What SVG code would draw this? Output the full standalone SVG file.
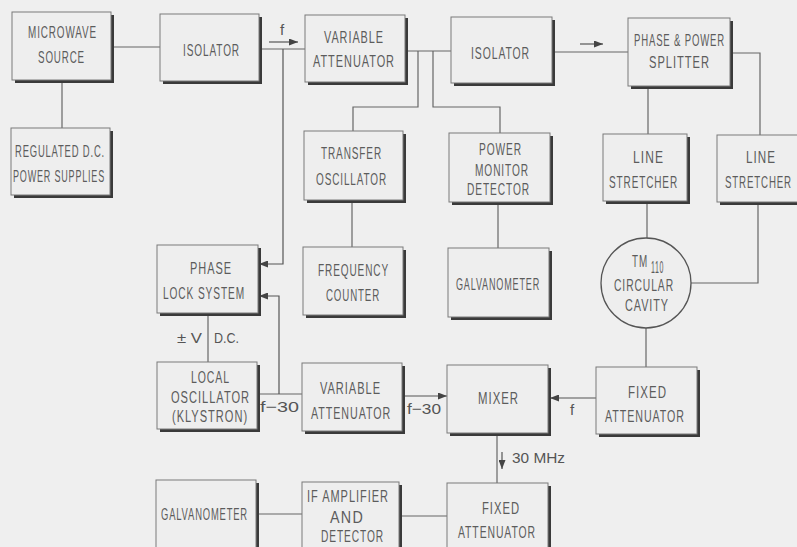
<svg xmlns="http://www.w3.org/2000/svg" width="797" height="547" viewBox="0 0 797 547">
<style>
.s{fill:#3a3a3a}
.f{fill:#eeeeee;stroke:#7a7a7a;stroke-width:1}
.t{font-family:"Liberation Sans",Arial,sans-serif;font-size:17px;letter-spacing:1.5px;fill:#5c5c5c}
.l{font-family:"Liberation Sans",Arial,sans-serif;font-size:15px;fill:#555}
.c{stroke:#666;stroke-width:1.2;fill:none}
.a{stroke:#555;stroke-width:1.2;fill:none;marker-end:url(#ah)}
</style>
<defs>
<marker id="ah" markerWidth="9" markerHeight="7" refX="9" refY="3.5" orient="auto" markerUnits="userSpaceOnUse">
<path d="M0,0 L9,3.5 L0,7 z" fill="#444"/>
</marker>
</defs>
<rect x="0" y="0" width="797" height="547" fill="#efefef"/>

<g id="connectors">
<path class="c" d="M111,47 H160"/>
<path class="c" d="M62,80 V128"/>
<path class="c" d="M259,49 H305"/>
<path class="a" d="M269,42 H298"/>
<path class="a" d="M283,49 V264 H259"/>
<path class="c" d="M405,51 H451"/>
<path class="c" d="M418,51 V107 H353 V131"/>
<path class="c" d="M433,51 V107 H500 V133"/>
<path class="c" d="M552,52 H628"/>
<path class="a" d="M580,44 H603"/>
<path class="c" d="M730,53 H760 V135"/>
<path class="c" d="M648,86 V134"/>
<path class="c" d="M352,200 V247"/>
<path class="c" d="M498,202 V248"/>
<path class="c" d="M647,201 V238"/>
<path class="c" d="M758,202 V283 H691"/>
<path class="c" d="M646,328 V367"/>
<path class="a" d="M596,398 H550"/>
<path class="c" d="M208,313 V362"/>
<path class="c" d="M257,394 H302"/>
<path class="a" d="M279,394 V296 H259"/>
<path class="a" d="M402,396 H447"/>
<path class="c" d="M497,433 V483"/>
<path class="a" d="M502,452 V469"/>
<path class="c" d="M256,514 H302"/>
<path class="c" d="M399,516 H447"/>
<text class="l" x="280" y="35" font-size="13">f</text>
<text class="l" x="570" y="415" font-size="13">f</text>
<text class="l" x="177" y="343" textLength="25" lengthAdjust="spacingAndGlyphs">± V</text>
<text class="l" x="214" y="343" textLength="25" lengthAdjust="spacingAndGlyphs">D.C.</text>
<text class="l" x="260" y="412" font-size="14" textLength="39" lengthAdjust="spacingAndGlyphs">f−30</text>
<text class="l" x="407" y="414" font-size="14" textLength="34" lengthAdjust="spacingAndGlyphs">f−30</text>
<text class="l" x="512" y="463" textLength="53" lengthAdjust="spacingAndGlyphs">30 MHz</text>
</g>

<g id="microwave-source">
<rect class="s" x="15" y="15" width="99" height="68"/><rect class="f" x="12" y="12" width="99" height="68"/>
<text class="t" font-size="15" x="28" y="38" textLength="69" lengthAdjust="spacingAndGlyphs">MICROWAVE</text>
<text class="t" font-size="16" x="38" y="63" textLength="47" lengthAdjust="spacingAndGlyphs">SOURCE</text>
</g>
<g id="regulated-dc">
<rect class="s" x="14" y="131" width="99" height="67"/><rect class="f" x="11" y="128" width="99" height="67"/>
<text class="t" font-size="18" x="15" y="157" textLength="90" lengthAdjust="spacingAndGlyphs">REGULATED D.C.</text>
<text class="t" font-size="18" x="13" y="182" textLength="92" lengthAdjust="spacingAndGlyphs">POWER SUPPLIES</text>
</g>
<g id="isolator-1">
<rect class="s" x="163" y="17" width="99" height="67"/><rect class="f" x="160" y="14" width="99" height="67"/>
<text class="t" x="183" y="56" textLength="57" lengthAdjust="spacingAndGlyphs">ISOLATOR</text>
</g>
<g id="variable-attenuator-1">
<rect class="s" x="308" y="18" width="100" height="67"/><rect class="f" x="305" y="15" width="100" height="67"/>
<text class="t" x="324" y="43" textLength="60" lengthAdjust="spacingAndGlyphs">VARIABLE</text>
<text class="t" x="313" y="67" textLength="82" lengthAdjust="spacingAndGlyphs">ATTENUATOR</text>
</g>
<g id="isolator-2">
<rect class="s" x="454" y="20" width="101" height="66"/><rect class="f" x="451" y="17" width="101" height="66"/>
<text class="t" x="471" y="59" textLength="59" lengthAdjust="spacingAndGlyphs">ISOLATOR</text>
</g>
<g id="phase-power-splitter">
<rect class="s" x="631" y="21" width="102" height="68"/><rect class="f" x="628" y="18" width="102" height="68"/>
<text class="t" font-size="16" x="634" y="46" textLength="91" lengthAdjust="spacingAndGlyphs">PHASE &amp; POWER</text>
<text class="t" font-size="16" x="649" y="68" textLength="61" lengthAdjust="spacingAndGlyphs">SPLITTER</text>
</g>
<g id="transfer-oscillator">
<rect class="s" x="307" y="134" width="99" height="69"/><rect class="f" x="304" y="131" width="99" height="69"/>
<text class="t" x="321" y="159" textLength="61" lengthAdjust="spacingAndGlyphs">TRANSFER</text>
<text class="t" x="316" y="185" textLength="71" lengthAdjust="spacingAndGlyphs">OSCILLATOR</text>
</g>
<g id="power-monitor-detector">
<rect class="s" x="452" y="136" width="101" height="69"/><rect class="f" x="449" y="133" width="101" height="69"/>
<text class="t" font-size="16" x="479" y="155" textLength="43" lengthAdjust="spacingAndGlyphs">POWER</text>
<text class="t" font-size="16" x="475" y="176" textLength="54" lengthAdjust="spacingAndGlyphs">MONITOR</text>
<text class="t" font-size="16" x="467" y="195" textLength="63" lengthAdjust="spacingAndGlyphs">DETECTOR</text>
</g>
<g id="line-stretcher-1">
<rect class="s" x="606" y="137" width="84" height="67"/><rect class="f" x="603" y="134" width="84" height="67"/>
<text class="t" x="633" y="163" textLength="31" lengthAdjust="spacingAndGlyphs">LINE</text>
<text class="t" x="609" y="188" textLength="69" lengthAdjust="spacingAndGlyphs">STRETCHER</text>
</g>
<g id="line-stretcher-2">
<rect class="s" x="720" y="138" width="92" height="67"/><rect class="f" x="717" y="135" width="92" height="67"/>
<text class="t" x="746" y="163" textLength="30" lengthAdjust="spacingAndGlyphs">LINE</text>
<text class="t" transform="translate(725,188) scale(0.571,1)" x="0" y="0">STRETCHER</text>
</g>
<g id="phase-lock-system">
<rect class="s" x="160" y="248" width="101" height="68"/><rect class="f" x="157" y="245" width="101" height="68"/>
<text class="t" x="190" y="274" textLength="42" lengthAdjust="spacingAndGlyphs">PHASE</text>
<text class="t" x="163" y="299" textLength="82" lengthAdjust="spacingAndGlyphs">LOCK  SYSTEM</text>
</g>
<g id="frequency-counter">
<rect class="s" x="306" y="250" width="100" height="68"/><rect class="f" x="303" y="247" width="100" height="68"/>
<text class="t" x="318" y="276" textLength="71" lengthAdjust="spacingAndGlyphs">FREQUENCY</text>
<text class="t" x="326" y="301" textLength="54" lengthAdjust="spacingAndGlyphs">COUNTER</text>
</g>
<g id="galvanometer-1">
<rect class="s" x="451" y="251" width="101" height="69"/><rect class="f" x="448" y="248" width="101" height="69"/>
<text class="t" x="456" y="290" textLength="84" lengthAdjust="spacingAndGlyphs">GALVANOMETER</text>
</g>
<g id="tm110-cavity">
<circle cx="646" cy="283" r="45" fill="#eeeeee" stroke="#555" stroke-width="1.3"/>
<text class="t" transform="translate(632,267) scale(0.58,1)" x="0" y="0">TM</text>
<text class="t" font-size="11" x="651" y="273" textLength="13" lengthAdjust="spacingAndGlyphs">110</text>
<text class="t" x="614" y="291" textLength="60" lengthAdjust="spacingAndGlyphs">CIRCULAR</text>
<text class="t" x="625" y="311" textLength="44" lengthAdjust="spacingAndGlyphs">CAVITY</text>
</g>
<g id="local-oscillator">
<rect class="s" x="160" y="365" width="100" height="67"/><rect class="f" x="157" y="362" width="100" height="67"/>
<text class="t" font-size="16" x="191" y="383" textLength="39" lengthAdjust="spacingAndGlyphs">LOCAL</text>
<text class="t" font-size="16" transform="translate(171,403) scale(0.653,1)" x="0" y="0">OSCILLATOR</text>
<text class="t" font-size="16" transform="translate(172,422) scale(0.652,1)" x="0" y="0">(KLYSTRON)</text>
</g>
<g id="variable-attenuator-2">
<rect class="s" x="305" y="366" width="100" height="68"/><rect class="f" x="302" y="363" width="100" height="68"/>
<text class="t" x="320" y="394" textLength="61" lengthAdjust="spacingAndGlyphs">VARIABLE</text>
<text class="t" transform="translate(311,419) scale(0.630,1)" x="0" y="0">ATTENUATOR</text>
</g>
<g id="mixer">
<rect class="s" x="450" y="368" width="101" height="68"/><rect class="f" x="447" y="365" width="101" height="68"/>
<text class="t" x="478" y="404" textLength="41" lengthAdjust="spacingAndGlyphs">MIXER</text>
</g>
<g id="fixed-attenuator-1">
<rect class="s" x="599" y="370" width="101" height="67"/><rect class="f" x="596" y="367" width="101" height="67"/>
<text class="t" x="628" y="398" textLength="39" lengthAdjust="spacingAndGlyphs">FIXED</text>
<text class="t" x="605" y="422" textLength="80" lengthAdjust="spacingAndGlyphs">ATTENUATOR</text>
</g>
<g id="galvanometer-2">
<rect class="s" x="159" y="483" width="100" height="72"/><rect class="f" x="156" y="480" width="100" height="72"/>
<text class="t" x="161" y="520" textLength="87" lengthAdjust="spacingAndGlyphs">GALVANOMETER</text>
</g>
<g id="if-amplifier-detector">
<rect class="s" x="305" y="485" width="97" height="70"/><rect class="f" x="302" y="482" width="97" height="70"/>
<text class="t" font-size="16" x="307" y="502" textLength="82" lengthAdjust="spacingAndGlyphs">IF AMPLIFIER</text>
<text class="t" font-size="16" x="330" y="523" textLength="34" lengthAdjust="spacingAndGlyphs">AND</text>
<text class="t" font-size="16" x="321" y="542" textLength="63" lengthAdjust="spacingAndGlyphs">DETECTOR</text>
</g>
<g id="fixed-attenuator-2">
<rect class="s" x="450" y="486" width="101" height="70"/><rect class="f" x="447" y="483" width="101" height="70"/>
<text class="t" x="482" y="514" textLength="38" lengthAdjust="spacingAndGlyphs">FIXED</text>
<text class="t" x="458" y="538" textLength="78" lengthAdjust="spacingAndGlyphs">ATTENUATOR</text>
</g>
</svg>
